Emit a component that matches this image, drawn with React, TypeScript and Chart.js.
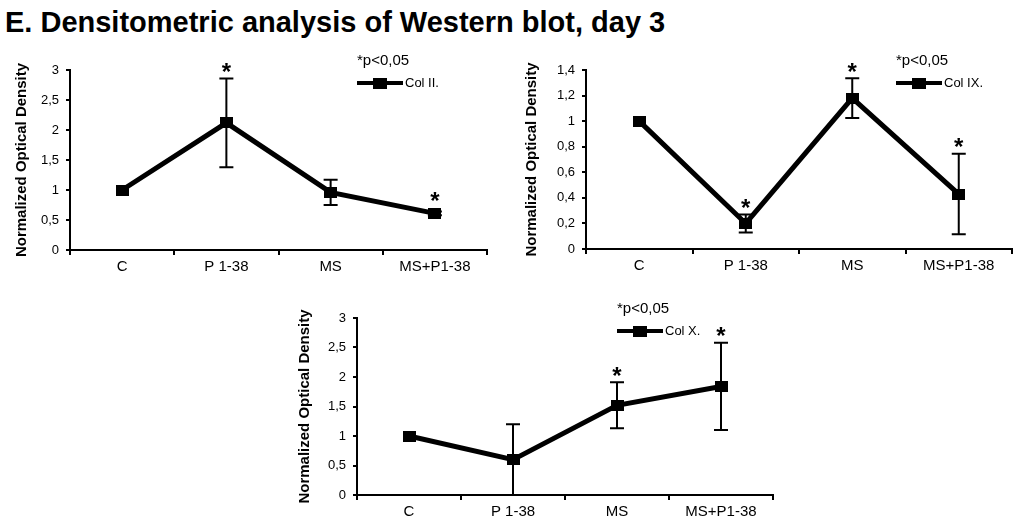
import { useEffect, useRef } from "react"
import { Chart, registerables } from "chart.js"

Chart.register(...registerables)

Chart.defaults.font.family = "'Liberation Sans', Arial, sans-serif"
Chart.defaults.color = "#000"

const categories = ["C", "P 1-38", "MS", "MS+P1-38"]

const colIIValues = [1.0, 2.12, 0.96, 0.61]
const colIIErrors = [0, 0.74, 0.21, 0.03]
const colIISignificant = [false, true, false, true]

const colIXValues = [1.0, 0.2, 1.18, 0.43]
const colIXErrors = [0, 0.07, 0.155, 0.315]
const colIXSignificant = [false, true, true, true]

const colXValues = [1.0, 0.6, 1.52, 1.84]
const colXErrors = [0, 0.6, 0.39, 0.74]
const colXSignificant = [false, false, true, true]

const pValueNote = "*p<0,05"

// wide square marker, like the original figure
function makeMarker() {
  const c = document.createElement("canvas")
  c.width = 13
  c.height = 11
  const g = c.getContext("2d")
  if (g) {
    g.fillStyle = "#000"
    g.fillRect(0, 0, 13, 11)
  }
  return c
}

type PanelProps = {
  label: string
  values: number[]
  errors: number[]
  significant: boolean[]
  yMax: number
  yStep: number
  // layout
  left: number
  top: number
  width: number
  height: number
  yAxisWidth: number
  xAxisHeight: number
  padRight: number
  titleOffset: number
  legendX: number
}

// error bars behind the line, asterisks + legend on top
const errorBarPlugin = {
  id: "errorBars",
  beforeDatasetsDraw(chart: any, _args: any, opts: any) {
    const { ctx, scales } = chart
    const meta = chart.getDatasetMeta(0)
    ctx.save()
    ctx.strokeStyle = "#000"
    ctx.lineWidth = 2
    meta.data.forEach((pt: any, i: number) => {
      const err = opts.errors[i]
      if (!err) return
      const v = opts.values[i]
      const yTop = scales.y.getPixelForValue(v + err)
      const yBot = scales.y.getPixelForValue(Math.max(0, v - err))
      ctx.beginPath()
      ctx.moveTo(pt.x, yTop)
      ctx.lineTo(pt.x, yBot)
      ctx.moveTo(pt.x - 7, yTop)
      ctx.lineTo(pt.x + 7, yTop)
      ctx.moveTo(pt.x - 7, yBot)
      ctx.lineTo(pt.x + 7, yBot)
      ctx.stroke()
    })
    ctx.restore()
  },
  afterDatasetsDraw(chart: any, _args: any, opts: any) {
    const { ctx, scales, chartArea } = chart
    const meta = chart.getDatasetMeta(0)
    ctx.save()
    ctx.fillStyle = "#000"
    ctx.textAlign = "center"
    ctx.textBaseline = "middle"
    ctx.font = "bold 24px 'Liberation Sans', Arial, sans-serif"
    meta.data.forEach((pt: any, i: number) => {
      if (!opts.significant[i]) return
      const v = opts.values[i]
      const top = Math.min(scales.y.getPixelForValue(v + opts.errors[i]), pt.y - 6)
      ctx.fillText("*", pt.x, top - 5)
    })

    // legend
    const lx = chartArea.right + opts.legendX
    const ty = chartArea.top
    ctx.textAlign = "left"
    ctx.font = "15px 'Liberation Sans', Arial, sans-serif"
    ctx.fillText(pValueNote, lx, ty - 9)
    ctx.strokeStyle = "#000"
    ctx.lineWidth = 4
    ctx.beginPath()
    ctx.moveTo(lx, ty + 13)
    ctx.lineTo(lx + 46, ty + 13)
    ctx.stroke()
    ctx.fillRect(lx + 16, ty + 8, 14, 11)
    ctx.font = "13px 'Liberation Sans', Arial, sans-serif"
    ctx.fillText(opts.label, lx + 48, ty + 13)
    ctx.restore()
  },
}

function Panel(p: PanelProps) {
  const chartRef = useRef<HTMLCanvasElement>(null)
  const chartInstance = useRef<Chart | null>(null)

  useEffect(() => {
    if (!chartRef.current) return
    if (chartInstance.current) chartInstance.current.destroy()
    const ctx = chartRef.current.getContext("2d")
    if (!ctx) return

    chartInstance.current = new Chart(ctx, {
      type: "line",
      data: {
        labels: categories,
        datasets: [
          {
            label: p.label,
            data: p.values,
            borderColor: "#000",
            backgroundColor: "#000",
            borderWidth: 5,
            pointStyle: makeMarker(),
            pointRadius: 7,
            tension: 0,
          },
        ],
      },
      plugins: [errorBarPlugin],
      options: {
        responsive: false,
        animation: false,
        layout: { padding: { top: 30, right: p.padRight, left: 0, bottom: 0 } },
        plugins: {
          legend: { display: false },
          tooltip: { enabled: false },
          errorBars: {
            values: p.values,
            errors: p.errors,
            significant: p.significant,
            label: p.label,
            legendX: p.legendX,
          },
        } as any,
        scales: {
          x: {
            type: "category",
            offset: true,
            grid: {
              offset: true,
              drawOnChartArea: false,
              tickLength: 5,
              color: "#000",
              lineWidth: 2,
            },
            border: { color: "#000", width: 2 },
            ticks: { font: { size: 15 }, padding: 3, maxRotation: 0 },
            afterFit: (scale: any) => {
              scale.height = p.xAxisHeight
            },
          },
          y: {
            min: 0,
            max: p.yMax,
            grid: {
              drawOnChartArea: false,
              tickLength: 4,
              color: "#000",
              lineWidth: 2,
            },
            border: { color: "#000", width: 2 },
            ticks: {
              stepSize: p.yStep,
              font: { size: 13 },
              padding: 7,
              callback: (v: any) => String(Number(Number(v).toFixed(1))).replace(".", ","),
            },
            title: {
              display: true,
              text: "Normalized Optical Density",
              font: { size: 15, weight: "bold" },
              padding: { top: p.titleOffset - 9, bottom: 0 },
            },
            afterFit: (scale: any) => {
              scale.width = p.yAxisWidth
            },
          },
        },
      },
    })

    return () => {
      if (chartInstance.current) {
        chartInstance.current.destroy()
        chartInstance.current = null
      }
    }
  }, [])

  return (
    <canvas
      ref={chartRef}
      width={p.width}
      height={p.height}
      style={{ position: "absolute", left: p.left, top: p.top, width: p.width, height: p.height }}
    />
  )
}

export default function App() {
  return (
    <div style={{ position: "absolute", left: 0, top: 0, width: 1024, height: 524, background: "#fff", overflow: "hidden" }}>
      <div
        style={{
          position: "absolute",
          left: 5,
          top: 8,
          fontFamily: "'Liberation Sans', Arial, sans-serif",
          fontWeight: "bold",
          fontSize: 29,
          lineHeight: 1,
          whiteSpace: "nowrap",
        }}
      >
        E. Densitometric analysis of Western blot, day 3
      </div>
      <Panel
        label="Col II."
        values={colIIValues}
        errors={colIIErrors}
        significant={colIISignificant}
        yMax={3}
        yStep={0.5}
        left={0}
        top={40}
        width={500}
        height={240}
        yAxisWidth={70}
        xAxisHeight={30}
        padRight={13}
        titleOffset={22}
        legendX={-130}
      />
      <Panel
        label="Col IX."
        values={colIXValues}
        errors={colIXErrors}
        significant={colIXSignificant}
        yMax={1.4}
        yStep={0.2}
        left={500}
        top={40}
        width={524}
        height={240}
        yAxisWidth={86}
        xAxisHeight={31}
        padRight={8}
        titleOffset={32}
        legendX={-116}
      />
      <Panel
        label="Col X."
        values={colXValues}
        errors={colXErrors}
        significant={colXSignificant}
        yMax={3}
        yStep={0.5}
        left={270}
        top={288}
        width={520}
        height={236}
        yAxisWidth={87}
        xAxisHeight={29}
        padRight={17}
        titleOffset={35}
        legendX={-156}
      />
    </div>
  )
}
